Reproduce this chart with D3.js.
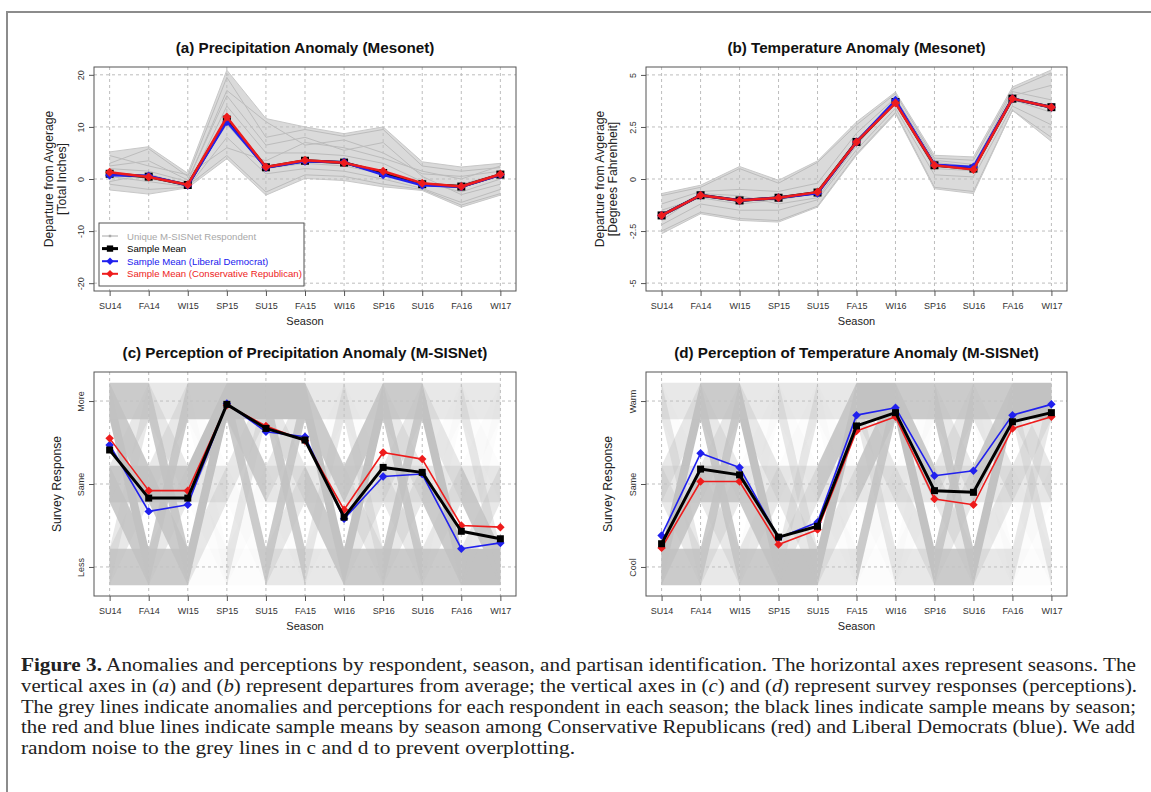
<!DOCTYPE html>
<html>
<head>
<meta charset="utf-8">
<script src="https://cdn.jsdelivr.net/npm/d3@7"></script>
<style>
body{margin:0;background:#fff;}
</style>
</head>
<body>
<div id="chart"></div>
<script>
var seasons = ["SU14","FA14","WI15","SP15","SU15","FA15","WI16","SP16","SU16","FA16","WI17"];

// (a) precipitation anomaly, total inches
var precipMean = [1.0, 0.45, -1.15, 11.4, 2.25, 3.5, 3.15, 1.15, -1.0, -1.45, 0.85];
var precipLib  = [0.7, 0.6, -1.2, 11.0, 2.2, 3.4, 3.2, 0.8, -1.2, -1.5, 0.8];
var precipCon  = [1.3, 0.4, -1.1, 11.9, 2.3, 3.6, 3.1, 1.5, -0.8, -1.45, 0.9];
var precipLo   = [-2.1, -2.9, -1.7, 3.9, -3.1, 0.1, -0.3, -1.5, -2.2, -5.4, -3.1];
var precipHi   = [5.2, 6.2, 1.1, 20.9, 11.6, 10.0, 8.7, 10.0, 3.3, 2.3, 3.0];
var precipResp = [
    [3.0, 5.8, 0.5, 19.5, 8.0, 9.5, 8.2, 9.5, 2.5, 1.5, 2.2],
    [2.0, 1.5, -0.5, 17.0, 11.0, 6.5, 7.5, 5.0, 1.0, 0.5, 1.5],
    [0.5, -0.5, -1.5, 14.0, 5.0, 5.0, 4.5, 3.0, -0.5, -2.5, 0.0],
    [-1.0, -2.0, -1.6, 8.0, 1.0, 2.0, 1.5, 0.0, -1.8, -4.5, -2.0],
    [4.5, 2.5, 0.8, 6.0, 3.5, 7.0, 6.0, 4.0, 1.5, 0.0, 2.5],
    [-0.5, 1.0, -1.3, 4.5, -2.5, 0.8, 0.5, -1.0, -2.0, -5.0, -2.8],
    [1.5, 0.0, -1.0, 10.5, 2.0, 3.0, 2.5, 1.0, -1.2, -1.0, 1.0],
    [2.5, 3.5, -0.2, 16.0, 6.5, 8.0, 5.5, 7.0, 0.5, -3.0, -1.0]
];

// (b) temperature anomaly, degrees F
var tempMean = [-1.75, -0.78, -1.03, -0.9, -0.65, 1.78, 3.7, 0.66, 0.5, 3.86, 3.45];
var tempLib  = [-1.75, -0.78, -1.03, -0.9, -0.68, 1.78, 3.78, 0.68, 0.58, 3.86, 3.45];
var tempCon  = [-1.75, -0.78, -1.03, -0.9, -0.63, 1.78, 3.65, 0.66, 0.45, 3.86, 3.45];
var tempLo   = [-2.63, -1.67, -1.99, -2.07, -1.35, 1.14, 3.14, -0.47, -0.7, 3.3, 1.8];
var tempHi   = [-0.7, -0.3, 0.6, -0.06, 0.87, 2.74, 4.18, 1.14, 1.06, 4.42, 5.24];
var tempResp = [
    [-0.8, -0.4, 0.5, -0.2, 0.8, 2.6, 4.1, 1.0, 0.9, 4.3, 5.1],
    [-2.5, -1.6, -1.9, -2.0, -1.3, 1.2, 3.2, -0.4, -0.6, 3.3, 2.0],
    [-1.2, -0.6, -0.5, -0.6, -0.2, 2.2, 3.9, 0.9, 0.7, 4.0, 4.5],
    [-2.2, -1.2, -1.5, -1.5, -1.0, 1.4, 3.4, 0.2, 0.1, 3.5, 2.6],
    [-1.5, -0.9, -1.2, -1.0, -0.7, 1.9, 3.6, 0.5, 0.4, 3.8, 3.2],
    [-2.0, -0.7, -0.8, -1.2, -0.9, 1.6, 3.8, 0.8, 0.6, 4.2, 3.8]
];

// (c) perceived precipitation: 1 = Less, 2 = Same, 3 = More
var precipPercMean = [2.41, 1.83, 1.83, 2.96, 2.67, 2.53, 1.60, 2.20, 2.14, 1.43, 1.34];
var precipPercLib  = [2.47, 1.67, 1.75, 2.97, 2.63, 2.57, 1.58, 2.09, 2.12, 1.22, 1.29];
var precipPercCon  = [2.55, 1.92, 1.92, 2.95, 2.70, 2.52, 1.69, 2.38, 2.30, 1.50, 1.48];
var precipLevels = ["Less", "Same", "More"];
// respondent flow between consecutive seasons, rows = from, cols = to (0 faint .. 3 dense)
var precipFlows = [
    [[2,1,1],[2,2,1],[3,2,2]],
    [[2,1,2],[2,2,1],[2,1,1]],
    [[0,1,3],[0,1,3],[0,0,2]],
    [[0,0,1],[0,0,1],[2,2,3]],
    [[1,1,2],[0,1,1],[2,1,3]],
    [[1,0,1],[2,1,0],[3,2,1]],
    [[2,1,3],[1,1,2],[1,0,1]],
    [[2,1,2],[1,1,1],[2,1,2]],
    [[2,1,0],[2,1,0],[3,1,1]],
    [[3,1,0],[2,1,0],[1,0,1]]
];

// (d) perceived temperature: 1 = Cool, 2 = Same, 3 = Warm
var tempPercMean = [1.28, 2.18, 2.11, 1.36, 1.49, 2.70, 2.86, 1.92, 1.90, 2.75, 2.86];
var tempPercLib  = [1.38, 2.37, 2.20, 1.35, 1.54, 2.83, 2.92, 2.10, 2.16, 2.83, 2.96];
var tempPercCon  = [1.23, 2.03, 2.03, 1.27, 1.45, 2.64, 2.81, 1.82, 1.75, 2.67, 2.81];
var tempLevels = ["Cool", "Same", "Warm"];
var tempFlows = [
    [[2,2,3],[1,1,1],[1,0,1]],
    [[1,1,2],[1,2,1],[2,1,2]],
    [[2,1,0],[2,1,0],[3,1,1]],
    [[3,1,1],[1,1,0],[1,0,1]],
    [[1,1,3],[0,1,2],[0,0,1]],
    [[0,0,2],[0,1,2],[1,1,3]],
    [[1,0,0],[1,1,0],[3,2,2]],
    [[2,1,2],[1,1,1],[2,1,2]],
    [[1,1,3],[0,1,2],[0,1,2]],
    [[0,0,1],[0,1,1],[1,1,3]]
];

var legendItems = ["Unique M-SISNet Respondent", "Sample Mean", "Sample Mean (Liberal Democrat)", "Sample Mean (Conservative Republican)"];

var SANS = "Liberation Sans, Arial, sans-serif";
var SERIF = "Liberation Serif, Times New Roman, serif";
var BLUE = "#2020ee", RED = "#ee1c1c", GREY = "#c2c2c2";
var flowOpacity = [0.05, 0.38, 0.85, 1];

var svg = d3.select("#chart").append("svg")
    .attr("width", 1151)
    .attr("height", 792)
    .style("font-family", SANS);

// outer figure frame
svg.append("path")
    .attr("d", "M7,792 L7,12 L1151,12")
    .attr("fill", "none")
    .attr("stroke", "#8c8c8c")
    .attr("stroke-width", 2);

function makePanel(cfg){
    var x = d3.scalePoint().domain(seasons).range([cfg.left, cfg.right]).padding(0.4);
    var y = d3.scaleLinear().domain(cfg.ylim).range([cfg.bottom, cfg.top]);
    var g = svg.append("g");
    g.append("rect")
        .attr("x", cfg.left).attr("y", cfg.top)
        .attr("width", cfg.right - cfg.left).attr("height", cfg.bottom - cfg.top)
        .attr("fill", "#fff");
    return {x: x, y: y, g: g, cfg: cfg};
}

function finishPanel(p){
    var cfg = p.cfg, g = p.g;
    // box
    g.append("rect")
        .attr("x", cfg.left).attr("y", cfg.top)
        .attr("width", cfg.right - cfg.left).attr("height", cfg.bottom - cfg.top)
        .attr("fill", "none").attr("stroke", "#555").attr("stroke-width", 1);
    // x axis
    var xa = g.append("g")
        .attr("transform", "translate(0," + cfg.bottom + ")")
        .call(d3.axisBottom(p.x).tickSize(5).tickPadding(7));
    xa.attr("font-family", SANS);
    xa.select(".domain").remove();
    xa.selectAll("line").attr("stroke", "#555");
    xa.selectAll("text").attr("font-size", 9).attr("fill", "#333");
    // y axis
    var ya = g.append("g")
        .attr("transform", "translate(" + cfg.left + ",0)")
        .call(d3.axisLeft(p.y).tickValues(cfg.ticks).tickSize(5)
            .tickFormat(function(d, i){ return cfg.labels[i]; }));
    ya.attr("font-family", SANS);
    ya.select(".domain").remove();
    ya.selectAll("line").attr("stroke", "#555");
    ya.selectAll("text")
        .attr("font-size", 9).attr("fill", "#333")
        .attr("transform", "rotate(-90)")
        .attr("x", 0).attr("y", -10).attr("dy", 0)
        .attr("text-anchor", "middle");
    // titles
    svg.append("text")
        .attr("x", (cfg.left + cfg.right) / 2)
        .attr("y", cfg.top - 14)
        .attr("text-anchor", "middle")
        .attr("font-weight", "bold")
        .attr("font-size", 15.2)
        .attr("fill", "#111")
        .text(cfg.title);
    svg.append("text")
        .attr("x", (cfg.left + cfg.right) / 2)
        .attr("y", cfg.bottom + 34)
        .attr("text-anchor", "middle")
        .attr("font-size", 11)
        .attr("fill", "#222")
        .text("Season");
    var yc = (cfg.top + cfg.bottom) / 2;
    cfg.ytitle.forEach(function(t, i){
        var bx = cfg.left - cfg.ytitleOffset + i * 13;
        svg.append("text")
            .attr("transform", "translate(" + bx + "," + yc + ") rotate(-90)")
            .attr("text-anchor", "middle")
            .attr("font-size", 12.2)
            .attr("fill", "#222")
            .text(t);
    });
}

function drawGrid(p, yvals){
    var cfg = p.cfg;
    p.g.append("g").selectAll("line").data(seasons).enter().append("line")
        .attr("x1", function(d){ return p.x(d); })
        .attr("x2", function(d){ return p.x(d); })
        .attr("y1", cfg.top).attr("y2", cfg.bottom)
        .attr("stroke", "#bdbdbd").attr("stroke-dasharray", "3 3");
    p.g.append("g").selectAll("line").data(yvals).enter().append("line")
        .attr("x1", cfg.left).attr("x2", cfg.right)
        .attr("y1", function(d){ return p.y(d); })
        .attr("y2", function(d){ return p.y(d); })
        .attr("stroke", "#bdbdbd").attr("stroke-dasharray", "3 3");
}

function drawSpread(p, lo, hi, resp){
    var area = d3.area()
        .x(function(d, i){ return p.x(seasons[i]); })
        .y0(function(d, i){ return p.y(lo[i]); })
        .y1(function(d, i){ return p.y(hi[i]); });
    p.g.append("path")
        .attr("d", area(lo))
        .attr("fill", "#dadada");
    var line = d3.line()
        .x(function(d, i){ return p.x(seasons[i]); })
        .y(function(d){ return p.y(d); });
    resp.forEach(function(r){
        p.g.append("path")
            .attr("d", line(r))
            .attr("fill", "none")
            .attr("stroke", "#bcbcbc")
            .attr("stroke-width", 1);
    });
    p.g.append("path")
        .attr("d", line(lo)).attr("fill", "none").attr("stroke", "#c8c8c8");
    p.g.append("path")
        .attr("d", line(hi)).attr("fill", "none").attr("stroke", "#c8c8c8");
}

function drawFlows(p, flows){
    var n = 0.22;
    flows.forEach(function(mat, i){
        var x0 = p.x(seasons[i]), x1 = p.x(seasons[i + 1]);
        mat.forEach(function(row, from){
            row.forEach(function(w, to){
                var a = from + 1, b = to + 1;
                var d = "M" + x0 + "," + p.y(a + n) +
                    " L" + x1 + "," + p.y(b + n) +
                    " L" + x1 + "," + p.y(b - n) +
                    " L" + x0 + "," + p.y(a - n) + " Z";
                p.g.append("path")
                    .attr("d", d)
                    .attr("fill", GREY)
                    .attr("fill-opacity", flowOpacity[w]);
            });
        });
    });
}

var diamond = d3.symbol().type(d3.symbolSquare);
var square = d3.symbol().type(d3.symbolSquare);

function drawSeries(p, vals, color, width, shape, size){
    var line = d3.line()
        .x(function(d, i){ return p.x(seasons[i]); })
        .y(function(d){ return p.y(d); });
    p.g.append("path")
        .attr("d", line(vals))
        .attr("fill", "none")
        .attr("stroke", color)
        .attr("stroke-width", width)
        .attr("stroke-linejoin", "round");
    p.g.append("g").selectAll("path").data(vals).enter().append("path")
        .attr("d", (shape === "diamond" ? diamond : square).size(size))
        .attr("transform", function(d, i){
            return "translate(" + p.x(seasons[i]) + "," + p.y(d) + ")" + (shape === "diamond" ? " rotate(45)" : "");
        })
        .attr("fill", color);
}

// ---------- panel (a)
var pa = makePanel({left: 94, right: 516, top: 67, bottom: 291, ylim: [-21.5, 21.5],
    ticks: [-20, -10, 0, 10, 20], labels: ["-20", "-10", "0", "10", "20"],
    title: "(a) Precipitation Anomaly (Mesonet)",
    ytitle: ["Departure from Avgerage", "[Total Inches]"], ytitleOffset: 41});
drawSpread(pa, precipLo, precipHi, precipResp);
drawGrid(pa, [-20, -10, 0, 10, 20]);
drawSeries(pa, precipMean, "#000", 3, "square", 64);
drawSeries(pa, precipLib, BLUE, 2.5, "diamond", 40);
drawSeries(pa, precipCon, RED, 2.5, "diamond", 40);
finishPanel(pa);

// legend in (a)
var lg = pa.g.append("g");
lg.append("rect")
    .attr("x", 99).attr("y", 223).attr("width", 205).attr("height", 63)
    .attr("fill", "#fff").attr("stroke", "#555");
var legendColors = ["#a8a8a8", "#000", BLUE, RED];
legendItems.forEach(function(t, i){
    var ly = 236 + i * 12.6;
    lg.append("line")
        .attr("x1", 102).attr("x2", 118).attr("y1", ly).attr("y2", ly)
        .attr("stroke", legendColors[i])
        .attr("stroke-width", i === 0 ? 1 : (i === 1 ? 3 : 2));
    lg.append("path")
        .attr("d", (i === 1 ? square.size(40) : (i === 0 ? square.size(6) : diamond.size(28))))
        .attr("transform", "translate(110," + ly + ")" + (i > 1 ? " rotate(45)" : ""))
        .attr("fill", legendColors[i]);
    lg.append("text")
        .attr("x", 127).attr("y", ly + 3.5)
        .attr("font-size", 9.6)
        .attr("fill", legendColors[i])
        .text(t);
});

// ---------- panel (b)
var pb = makePanel({left: 646, right: 1067, top: 67, bottom: 291, ylim: [-5.38, 5.38],
    ticks: [-5, -2.5, 0, 2.5, 5], labels: ["-5", "-2.5", "0", "2.5", "5"],
    title: "(b) Temperature Anomaly (Mesonet)",
    ytitle: ["Departure from Avgerage", "[Degrees Fahrenheit]"], ytitleOffset: 42});
drawSpread(pb, tempLo, tempHi, tempResp);
drawGrid(pb, [-5, -2.5, 0, 2.5, 5]);
drawSeries(pb, tempMean, "#000", 3, "square", 64);
drawSeries(pb, tempLib, BLUE, 2.5, "diamond", 40);
drawSeries(pb, tempCon, RED, 2.5, "diamond", 40);
finishPanel(pb);

// ---------- panel (c)
var pc = makePanel({left: 94, right: 516, top: 372, bottom: 596, ylim: [0.65, 3.35],
    ticks: [1, 2, 3], labels: precipLevels,
    title: "(c) Perception of Precipitation Anomaly (M-SISNet)",
    ytitle: ["Survey Response"], ytitleOffset: 33});
drawGrid(pc, [1, 2, 3]);
drawFlows(pc, precipFlows);
drawSeries(pc, precipPercLib, BLUE, 1.6, "diamond", 36);
drawSeries(pc, precipPercCon, RED, 1.6, "diamond", 36);
drawSeries(pc, precipPercMean, "#000", 3, "square", 49);
finishPanel(pc);

// ---------- panel (d)
var pd = makePanel({left: 646, right: 1067, top: 372, bottom: 596, ylim: [0.65, 3.35],
    ticks: [1, 2, 3], labels: tempLevels,
    title: "(d) Perception of Temperature Anomaly (M-SISNet)",
    ytitle: ["Survey Response"], ytitleOffset: 34});
drawGrid(pd, [1, 2, 3]);
drawFlows(pd, tempFlows);
drawSeries(pd, tempPercLib, BLUE, 1.6, "diamond", 36);
drawSeries(pd, tempPercCon, RED, 1.6, "diamond", 36);
drawSeries(pd, tempPercMean, "#000", 3, "square", 49);
finishPanel(pd);

// ---------- caption
var caption = [
    [["b", "Figure 3."], ["", " Anomalies and perceptions by respondent, season, and partisan identification. The horizontal axes represent seasons. The"]],
    [["", "vertical axes in ("], ["i", "a"], ["", ") and ("], ["i", "b"], ["", ") represent departures from average; the vertical axes in ("], ["i", "c"], ["", ") and ("], ["i", "d"], ["", ") represent survey responses (perceptions)."]],
    [["", "The grey lines indicate anomalies and perceptions for each respondent in each season; the black lines indicate sample means by season;"]],
    [["", "the red and blue lines indicate sample means by season among Conservative Republicans (red) and Liberal Democrats (blue). We add"]],
    [["", "random noise to the grey lines in c and d to prevent overplotting."]]
];
var capWidths = [1115, 1116, 1115, 1114, 554];
caption.forEach(function(parts, i){
    var t = svg.append("text")
        .attr("x", 21)
        .attr("y", 671 + i * 20.8)
        .style("font-family", SERIF)
        .attr("font-size", 19)
        .attr("fill", "#222")
        .attr("textLength", capWidths[i])
        .attr("lengthAdjust", "spacingAndGlyphs");
    parts.forEach(function(s){
        var ts = t.append("tspan").text(s[1]);
        if (s[0] === "b") ts.attr("font-weight", "bold");
        if (s[0] === "i") ts.attr("font-style", "italic");
    });
});
</script>
</body>
</html>
